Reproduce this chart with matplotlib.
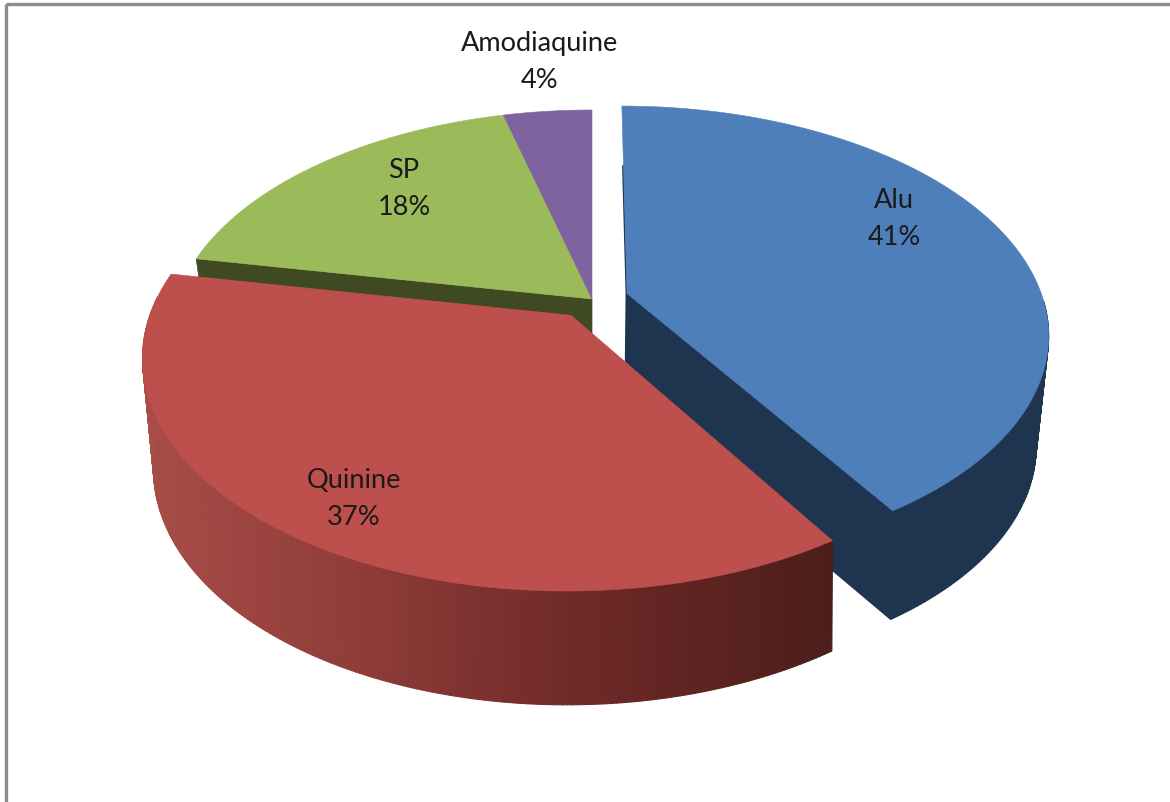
import matplotlib
matplotlib.use("Agg")
import matplotlib.pyplot as plt
import numpy as np
from matplotlib.collections import PolyCollection
from matplotlib.colors import LinearSegmentedColormap
from matplotlib.patches import Polygon, Rectangle

labels = ["Alu", "Quinine", "SP", "Amodiaquine"]
shares = [41, 37, 18, 4]
top_colors = ["#4F7FBB", "#BD4F4C", "#9BBA59", "#7F63A1"]
side_colors = ["#1F344F", "#4C1D1A", "#404A22", "#3F3151"]
exploded = [0.088, 0.088, 0, 0]
label_pos = [(894, 219), (354, 499), (404, 189), (540, 62)]

# projection of the pie plane in figure pixels
cx, cy = 592, 300
rx, ry = 416, 221.7
persp_top, persp_low = 0.173, 0.2
depth = 103
shrink_x = 0.968

plt.rcParams["font.family"] = ["Lato", "DejaVu Sans"]

fig = plt.figure(figsize=(11.7, 8.03), dpi=100)
ax = fig.add_axes([0, 0, 1, 1])
ax.set_xlim(0, 1170)
ax.set_ylim(803, 0)
ax.axis("off")

ax.add_patch(Rectangle((6, 5), 1300, 1300, fill=False, ec="#8C8C8C", lw=2.4))

# outer wall of the front slice darkens from left to right
wall_cmap = LinearSegmentedColormap.from_list("wall", ["#A84D48", "#8E3B37", "#6A2826", "#4C1D1A"])


def project(x, y):
    s = 1 / (1 + persp_top * y)
    return cx + rx * x * s, cy - ry * y * s


def project_low(x, y):
    s = 1 / (1 + persp_low * y)
    return cx + rx * x * s * shrink_x, cy + depth - ry * y * s


def draw_slice(i, start, end, rank):
    # angles run clockwise from the top of the pie
    mid = np.radians((start + end) / 2)
    ox, oy = exploded[i] * np.sin(mid), exploded[i] * np.cos(mid)
    th = np.radians(np.linspace(start, end, 240))
    arc_x, arc_y = ox + np.sin(th), oy + np.cos(th)

    top = np.column_stack(project(arc_x, arc_y))
    low = np.column_stack(project_low(arc_x, arc_y))
    apex_top = np.array(project(ox, oy))
    apex_low = np.array(project_low(ox, oy))
    z = 2 + rank

    if labels[i] in ("Alu", "Quinine"):
        # only the front half of the rim can be seen
        front = [k for k in range(len(top) - 1) if arc_y[k] < 0]
        quads = [[top[k], top[k + 1], low[k + 1], low[k]] for k in front]
        if labels[i] == "Quinine":
            u = np.clip((top[front, 0] - 140) / 698, 0, 1)
            shade = wall_cmap(u)
        else:
            shade = side_colors[i]
        ax.add_collection(PolyCollection(quads, facecolors=shade, edgecolors=shade, linewidths=0.8, zorder=z))

    # cut face between the centre and the edge that looks towards the viewer
    if labels[i] == "Alu":
        ax.add_patch(Polygon([apex_top, top[-1], low[-1], apex_low], closed=True, fc=side_colors[i],
                             ec=side_colors[i], lw=1, zorder=z))
        # narrow strip of the opposite cut face along the left edge
        near = apex_top + 0.68 * (top[0] - apex_top)
        ax.plot([near[0] - 0.6, apex_top[0] - 0.6, apex_low[0] - 0.6], [near[1], apex_top[1], apex_low[1]],
                color=side_colors[i], lw=1.2, zorder=z)
    if labels[i] == "SP":
        ax.add_patch(Polygon([apex_top, top[0], low[0], apex_low], closed=True, fc=side_colors[i],
                             ec=side_colors[i], lw=0.5, zorder=z))

    ax.add_patch(Polygon(np.vstack([apex_top, top]), closed=True, fc=top_colors[i], ec=top_colors[i],
                         lw=0.4, zorder=z + 0.5))


edges = np.cumsum([0] + shares) * 3.6
# back slices first, the front slice last
for rank, i in enumerate([2, 3, 0, 1]):
    draw_slice(i, edges[i], edges[i + 1], rank)

for name, val, pos in zip(labels, shares, label_pos):
    ax.text(pos[0], pos[1], f"{name}\n{val}%", ha="center", va="center", fontsize=19.5,
            color="#1A1A1A", linespacing=1.62, zorder=10)

fig.savefig("out.png", dpi=100)
